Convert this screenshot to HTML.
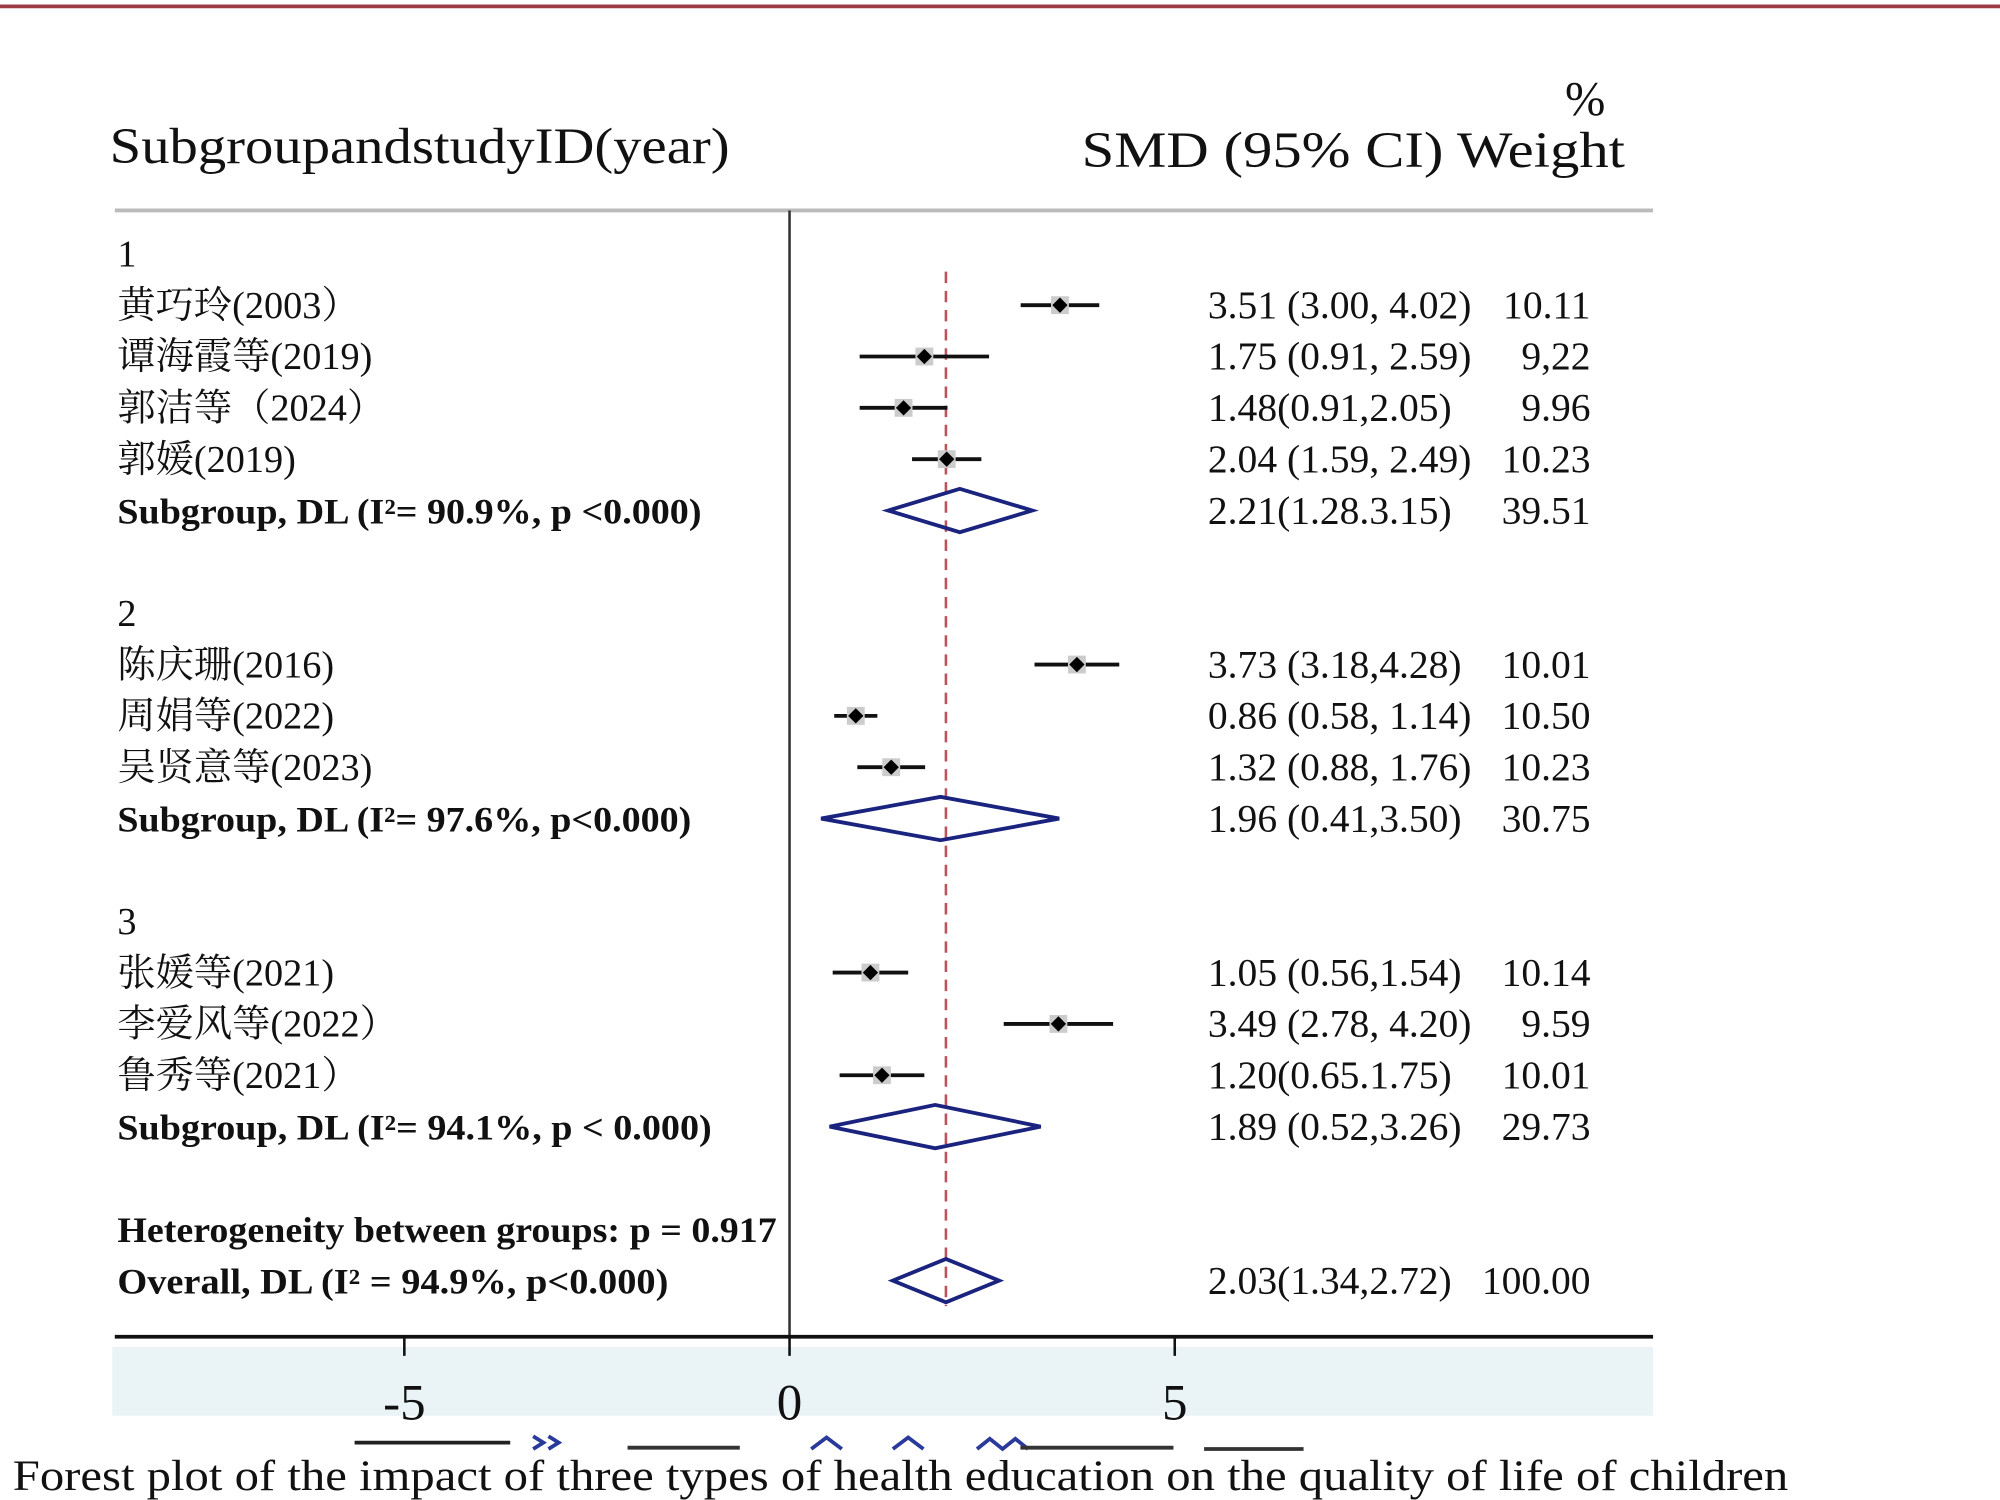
<!DOCTYPE html>
<html><head><meta charset="utf-8"><style>
html,body{margin:0;padding:0;background:#fff;}
svg{display:block;}
text{font-family:"Liberation Serif","Noto Serif CJK SC","Noto Sans CJK SC",serif;fill:#111;}
</style></head><body>
<svg id="chart" width="2000" height="1500" viewBox="0 0 1568 1176" xmlns="http://www.w3.org/2000/svg">
<rect x="0" y="0" width="1568" height="1176" fill="#fff"/>
<line x1="0" y1="5" x2="1568" y2="5" stroke="#9e3b45" stroke-width="3"/>
<rect x="88" y="1056" width="1208" height="54" fill="#eaf4f6"/>
<text x="86" y="128" font-size="40" textLength="486" lengthAdjust="spacingAndGlyphs">SubgroupandstudyID(year)</text>
<text x="1227" y="90" font-size="38">%</text>
<text x="848" y="131" font-size="40" textLength="426" lengthAdjust="spacingAndGlyphs">SMD (95% CI)  Weight</text>
<line x1="90" y1="165" x2="1296" y2="165" stroke="#bbb" stroke-width="3"/>
<line x1="619" y1="165" x2="619" y2="1048" stroke="#333" stroke-width="2"/>
<g id="rows"></g>
<line x1="90" y1="1048" x2="1296" y2="1048" stroke="#111" stroke-width="3"/>
<g id="axis"></g>
<g stroke-width="3" fill="none">
<line x1="278" y1="1131" x2="400" y2="1131" stroke="#222"/>
<path d="M418 1126 l8 5 -8 5 M430 1126 l8 5 -8 5" stroke="#2a3a9a"/>
<line x1="492" y1="1135" x2="580" y2="1135" stroke="#333"/>
<path d="M636 1136 l12 -9 12 9 M700 1136 l12 -9 12 9 M766 1136 l10 -8 10 8 10 -8 10 8" stroke="#2a3a9a"/>
<line x1="800" y1="1135" x2="920" y2="1135" stroke="#333"/>
<line x1="944" y1="1136" x2="1022" y2="1136" stroke="#333"/>
</g>
<text x="10" y="1168" font-size="34" textLength="1392" lengthAdjust="spacingAndGlyphs">Forest plot of the impact of three types of health education on the quality of life of children</text>
</svg>
<script>
// ---- data ----
const rowLabels = ["1","黄巧玲(2003）","谭海霞等(2019)","郭洁等（2024）","郭媛(2019)","Subgroup, DL (I²= 90.9%, p <0.000)","",
 "2","陈庆珊(2016)","周娟等(2022)","吴贤意等(2023)","Subgroup, DL (I²= 97.6%, p<0.000)","",
 "3","张媛等(2021)","李爱风等(2022）","鲁秀等(2021）","Subgroup, DL (I²= 94.1%, p < 0.000)","",
 "Heterogeneity between groups: p = 0.917","Overall, DL (I² = 94.9%, p<0.000)"];
const rowType = ["h","s","s","s","s","d","b","h","s","s","s","d","b","h","s","s","s","d","b","t","d"];
const est = [null,3.51,1.75,1.48,2.04,2.21,null,null,3.73,0.86,1.32,1.96,null,null,1.05,3.49,1.20,1.89,null,null,2.03];
const lo  = [null,3.00,0.91,0.91,1.59,1.28,null,null,3.18,0.58,0.88,0.41,null,null,0.56,2.78,0.65,0.52,null,null,1.34];
const hi  = [null,4.02,2.59,2.05,2.49,3.15,null,null,4.28,1.14,1.76,3.50,null,null,1.54,4.20,1.75,3.26,null,null,2.72];
const ciText = ["","3.51 (3.00, 4.02)","1.75 (0.91, 2.59)","1.48(0.91,2.05)","2.04 (1.59, 2.49)","2.21(1.28.3.15)","",
 "","3.73 (3.18,4.28)","0.86 (0.58, 1.14)","1.32 (0.88, 1.76)","1.96 (0.41,3.50)","",
 "","1.05 (0.56,1.54)","3.49 (2.78, 4.20)","1.20(0.65.1.75)","1.89 (0.52,3.26)","","","2.03(1.34,2.72)"];
const weightText = ["","10.11","9,22","9.96","10.23","39.51","","","10.01","10.50","10.23","30.75","","","10.14","9.59","10.01","29.73","","","100.00"];
const overallEst = 2.03;
const xTicks = [-5,0,5];
const xTickLabels = ["-5","0","5"];

// ---- scales ----
const NS="http://www.w3.org/2000/svg";
function xs(v){return 619+v*60.4;}
function ys(i){return 199+i*40.25;}
function mk(tag,attrs,parent){const e=document.createElementNS(NS,tag);for(const k in attrs)e.setAttribute(k,attrs[k]);parent.appendChild(e);return e;}
const rows=document.getElementById('rows');
const axis=document.getElementById('axis');

const dl=mk('line',{x1:xs(overallEst),y1:213,x2:xs(overallEst),y2:1024,stroke:'#c0505a','stroke-width':2,'stroke-dasharray':'9 6'},rows);



rowLabels.forEach((lab,i)=>{
  const y=ys(i);
  if(rowType[i]==='b') return;
  const bold=(rowType[i]==='d'||rowType[i]==='t');
  const t=mk('text',{x:92,y:y+10,'font-size':bold?28:30,'font-weight':bold?'bold':'normal'},rows);
  t.textContent=lab;
  if(rowType[i]==='d'){t.setAttribute('textLength', lab.startsWith('Overall')?432:(lab.indexOf('94.1')>0?466:(lab.indexOf('97.6')>0?450:458)));t.setAttribute('lengthAdjust','spacingAndGlyphs');}
  if(rowType[i]==='t'){t.setAttribute('textLength',517);t.setAttribute('lengthAdjust','spacingAndGlyphs');}
  
  
  if(est[i]===null) return;
  if(rowType[i]==='s'){
    const l=mk('line',{x1:xs(lo[i]),y1:y,x2:xs(hi[i]),y2:y,stroke:'#111','stroke-width':3},rows);
    
    
    const sq=mk('rect',{x:xs(est[i])-7,y:y-7,width:14,height:14,fill:'#ccc'},rows);
    
    
    const p=mk('path',{d:`M${xs(est[i])-6} ${y} L${xs(est[i])} ${y-6} L${xs(est[i])+6} ${y} L${xs(est[i])} ${y+6}Z`,fill:'#000'},rows);
    
    
  } else {
    const c=xs(est[i]);
    const d=mk('path',{d:`M${xs(lo[i])} ${y} L${c} ${y-17} L${xs(hi[i])} ${y} L${c} ${y+17}Z`,fill:'none',stroke:'#1a237e','stroke-width':3},rows);
    
    
  }
  const ct=mk('text',{x:947,y:y+10,'font-size':31},rows);
  ct.textContent=ciText[i];
  
  
  const wt=mk('text',{x:1247,y:y+10,'font-size':31,'text-anchor':'end'},rows);
  wt.textContent=weightText[i];
  
  
});

xTicks.forEach((v,i)=>{
  const tk=mk('line',{x1:xs(v),y1:1048,x2:xs(v),y2:1063,stroke:'#111','stroke-width':2},axis);
  
  
  const tl=mk('text',{x:xs(v),y:1113,'font-size':40,'text-anchor':'middle'},axis);
  tl.textContent=xTickLabels[i];
  
  
});
</script>
</body></html>
